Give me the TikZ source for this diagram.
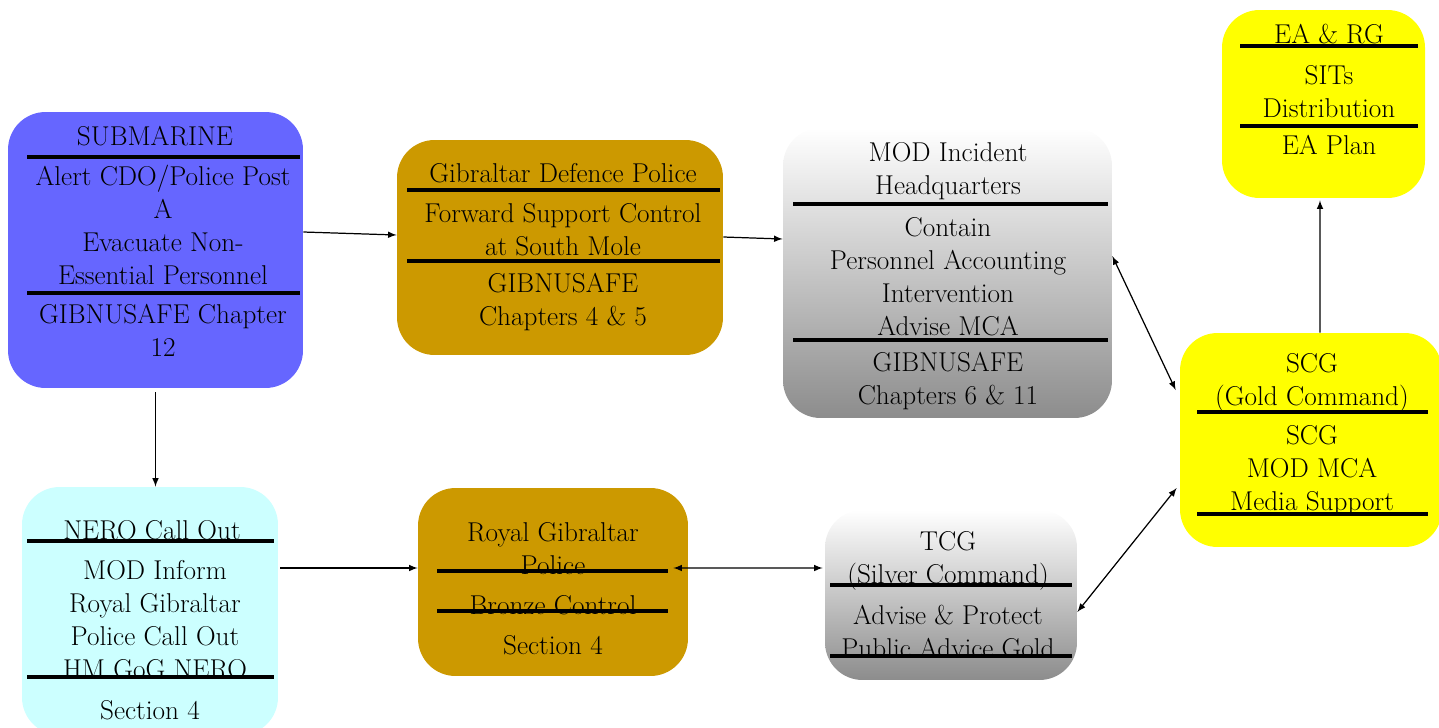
\documentclass[tikz,border=0pt]{standalone}
\usepackage{tikz}
\usetikzlibrary{calc}

\definecolor{subblue}{HTML}{6666FF}
\definecolor{police}{HTML}{CC9900}
\definecolor{nerocyan}{HTML}{CCFFFF}
\definecolor{goldcmd}{HTML}{FFFF00}

\tikzset{
  box/.style={rectangle, rounded corners=0.75cm, inner sep=0pt},
  greybox/.style={box, top color=white, bottom color=black!45},
  rulebar/.style={line width=1.9pt},
  lbl/.style={align=center, inner sep=0pt, font=\fontsize{15.5}{18.8}\selectfont},
  link/.style={-latex, line width=0.7pt},
  dlink/.style={latex-latex, line width=0.7pt}
}

\begin{document}
\begin{tikzpicture}[x=0.02cm, y=-0.02cm]
  \useasboundingbox (0,0) rectangle (1439,727);

  % boxes
  \node[box, fill=subblue, minimum width=5.9cm, minimum height=5.52cm] (sub) at (155.5,250) {};
  \node[box, fill=police, minimum width=6.52cm, minimum height=4.3cm] (gdp) at (560,247.5) {};
  \node[greybox, minimum width=6.58cm, minimum height=5.8cm] (mod) at (947.5,273) {};
  \node[box, fill=goldcmd, minimum width=4.06cm, minimum height=3.76cm] (ea) at (1323.5,104) {};
  \node[box, fill=goldcmd, minimum width=5.24cm, minimum height=4.28cm] (scg) at (1311,440) {};
  \node[box, fill=nerocyan, minimum width=5.12cm, minimum height=4.96cm] (nero) at (150,611) {};
  \node[box, fill=police, minimum width=5.4cm, minimum height=3.76cm] (rgp) at (553,582) {};
  \node[greybox, minimum width=5.04cm, minimum height=3.4cm] (tcg) at (951,595) {};

  % rules
  \draw[rulebar] (27,157) -- (300,157);
  \draw[rulebar] (27,293) -- (300,293);
  \draw[rulebar] (407,190) -- (720,190);
  \draw[rulebar] (407,261) -- (720,261);
  \draw[rulebar] (793,204) -- (1108,204);
  \draw[rulebar] (793,340) -- (1108,340);
  \draw[rulebar] (1240,46) -- (1418,46);
  \draw[rulebar] (1240,126) -- (1418,126);
  \draw[rulebar] (1197,412) -- (1428,412);
  \draw[rulebar] (1197,514) -- (1428,514);
  \draw[rulebar] (27,541) -- (274,541);
  \draw[rulebar] (27,677) -- (274,677);
  \draw[rulebar] (437,571) -- (668,571);
  \draw[rulebar] (437,611) -- (668,611);
  \draw[rulebar] (830,585) -- (1072,585);
  \draw[rulebar] (830,656) -- (1072,656);

  % texts
  \node[lbl] (sub-a) at (155,136) {SUBMARINE};
  \node[lbl] (sub-b) at (163,225) {Alert CDO/Police Post\\A\\Evacuate Non-\\Essential Personnel};
  \node[lbl] (sub-c) at (163,330.5) {GIBNUSAFE Chapter\\12};

  \node[lbl] (gdp-a) at (563,173) {Gibraltar Defence Police};
  \node[lbl] (gdp-b) at (563,229.5) {Forward Support Control\\at South Mole};
  \node[lbl] (gdp-c) at (563,302) {GIBNUSAFE\\Chapters 4 \& 5};

  \node[lbl] (mod-a) at (948,171) {MOD Incident\\Headquarters};
  \node[lbl] (mod-b) at (948,276.5) {Contain\\Personnel Accounting\\Intervention\\Advise MCA};
  \node[lbl] (mod-c) at (948,381.5) {GIBNUSAFE\\Chapters 6 \& 11};

  \node[lbl] (ea-a) at (1329,34) {EA \& RG};
  \node[lbl] (ea-b) at (1329,91.5) {SITs\\Distribution};
  \node[lbl] (ea-c) at (1329,145) {EA Plan};

  \node[lbl] (scg-a) at (1312,382.5) {SCG\\(Gold Command)};
  \node[lbl] (scg-b) at (1312,470.5) {SCG\\MOD MCA\\Media Support};

  \node[lbl] (nero-a) at (152,530) {NERO Call Out};
  \node[lbl] (nero-b) at (155,619.5) {MOD Inform\\Royal Gibraltar\\Police Call Out\\HM GoG NERO};
  \node[lbl] (nero-c) at (150,710) {Section 4};

  \node[lbl] (rgp-a) at (553,549) {Royal Gibraltar\\Police};
  \node[lbl] (rgp-b) at (553,605) {Bronze Control};
  \node[lbl] (rgp-c) at (553,645) {Section 4};

  \node[lbl] (tcg-a) at (948,561) {TCG\\(Silver Command)};
  \node[lbl] (tcg-b) at (948,632) {Advise \& Protect\\Public Advice Gold};

  % connectors
  \coordinate (rgpin) at ([yshift=0.28cm]rgp.west);
  \draw[link] ([yshift=0.36cm]sub.east) -- ([yshift=0.25cm]gdp.west);
  \draw[link] ([yshift=0.21cm]gdp.east) -- ([yshift=0.68cm]mod.west);
  \draw[link] ([yshift=-0.08cm]sub.south) -- (sub.south |- nero.north);
  \draw[link] ([xshift=0.04cm]nero.east |- rgpin) -- (rgpin);
  \draw[dlink] ([xshift=-0.3cm,yshift=0.28cm]rgp.east) -- ([xshift=-0.04cm,yshift=0.54cm]tcg.west);
  \draw[dlink] ([yshift=0.34cm]mod.east) -- ([xshift=-0.08cm,yshift=1cm]scg.west);
  \draw[dlink] ([yshift=-0.34cm]tcg.east) -- ([xshift=-0.06cm,yshift=-0.96cm]scg.west);
  \draw[link] ([xshift=0.18cm]scg.north) -- ([xshift=-0.07cm,yshift=-0.04cm]ea.south);
\end{tikzpicture}
\end{document}
